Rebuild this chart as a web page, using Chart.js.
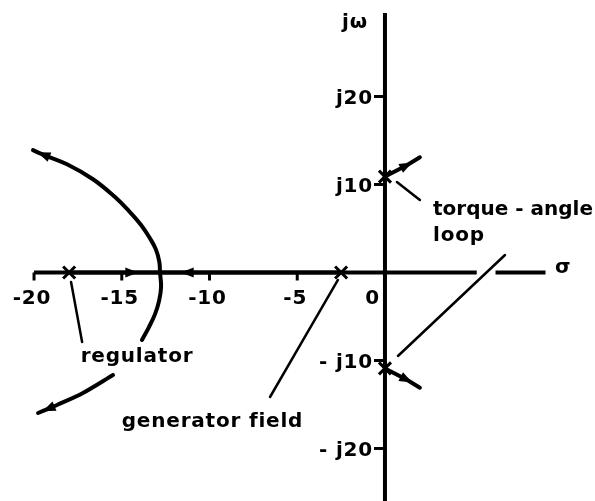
<!DOCTYPE html>
<html>
<head>
<meta charset="utf-8">
<script src="https://cdn.jsdelivr.net/npm/chart.js@4.4.1/dist/chart.umd.min.js"></script>
<style>
  html, body { margin: 0; padding: 0; background: #fff; }
  #wrap { width: 595px; height: 501px; }
</style>
</head>
<body>
<div id="wrap"><canvas id="locus"></canvas></div>
<script>
// s-plane tick values and their labels
const sigmaTicks = [-20, -15, -10, -5, 0];
const sigmaTickLabels = ['-20', '-15', '-10', '-5', '0'];
const omegaTicks = [20, 10, -10, -20];
const omegaTickLabels = ['j20', 'j10', '- j10', '- j20'];

// open-loop poles
const poleSigma = [-18, -2.5, 0, 0];
const poleOmega = [0, 0, 10.9, -10.9];

// regulator branches leaving the real axis
const upperArcSigma = [-12.82, -12.86, -13.05, -13.4, -13.9, -14.6, -15.4, -16.64, -18.12, -19.49, -20.06];
const upperArcOmega = [0, 1.2, 2.6, 3.9, 5.4, 7.0, 8.6, 10.6, 12.3, 13.4, 13.9];
const lowerArcSigma = [-12.82, -12.76, -12.87, -13.1, -13.45, -13.85];
const lowerArcOmega = [0, -1.65, -3.2, -4.7, -6.2, -7.67];
const lowerTailSigma = [-15.5, -17.21, -18.69, -19.2, -19.77];
const lowerTailOmega = [-11.65, -13.69, -15.06, -15.5, -15.97];

// real-axis segments running into the breakaway point
const regAxisSigma = [-18, -14.4, -12.82];
const fieldAxisSigma = [-2.5, -11.3, -12.82];

// torque-angle loop branches
const torqueUpSigma = [0, 1.25, 1.99];
const torqueUpOmega = [10.9, 12.2, 13.1];
const torqueDownSigma = [0, 1.25, 1.99];
const torqueDownOmega = [-10.9, -12.2, -13.1];

const pts = (xs, ys) => xs.map((x, i) => ({ x: x, y: ys[i] }));
const flat = xs => xs.map(x => ({ x: x, y: 0 }));

function stroke(data, width, extra) {
  return Object.assign({
    data: data,
    showLine: true,
    borderColor: '#000',
    borderWidth: width,
    borderCapStyle: 'round',
    pointRadius: 0,
    tension: 0.3,
    fill: false
  }, extra || {});
}

// text placed on the plane
const notes = [
  { text: 'jω', x: -0.97, y: 28.35, align: 'right' },
  { text: 'σ', x: 9.69, y: 0.55, align: 'left' },
  { text: 'torque - angle', x: 2.74, y: 7.1, align: 'left', spacing: '0px' },
  { text: 'loop', x: 2.74, y: 4.15, align: 'left' },
  { text: 'regulator', x: -14.13, y: -9.6, align: 'center' },
  { text: 'generator field', x: -9.83, y: -17.0, align: 'center' }
];

const LABEL_FONT = 'bold 20px "DejaVu Sans"';
const LABEL_SPACING = '0.8px';

const arrowHeads = {
  id: 'arrowHeads',
  afterDatasetsDraw(chart) {
    const ctx = chart.ctx;
    chart.data.datasets.forEach((ds, i) => {
      if (ds.arrowAt == null) return;
      const p = chart.getDatasetMeta(i).data;
      const a = p[ds.arrowAt - 1], b = p[ds.arrowAt];
      const ang = Math.atan2(b.y - a.y, b.x - a.x);
      ctx.save();
      ctx.translate(b.x, b.y);
      ctx.rotate(ang);
      ctx.beginPath();
      ctx.moveTo(6, 0);
      ctx.lineTo(-7, -5);
      ctx.lineTo(-7, 5);
      ctx.closePath();
      ctx.fillStyle = '#000';
      ctx.fill();
      ctx.restore();
    });
  }
};

const planeText = {
  id: 'planeText',
  afterDatasetsDraw(chart) {
    const { ctx, scales: { x, y } } = chart;
    const x0 = x.getPixelForValue(0), y0 = y.getPixelForValue(0);
    ctx.save();
    ctx.strokeStyle = '#000';
    ctx.fillStyle = '#000';
    ctx.lineWidth = 3;
    ctx.font = LABEL_FONT;
    ctx.letterSpacing = LABEL_SPACING;
    ctx.textBaseline = 'middle';

    sigmaTicks.forEach((v, i) => {
      const px = x.getPixelForValue(v);
      if (v !== 0) {
        ctx.beginPath();
        ctx.moveTo(px, y0);
        ctx.lineTo(px, y0 + 8);
        ctx.stroke();
      }
      ctx.textAlign = v === 0 ? 'right' : 'center';
      ctx.fillText(sigmaTickLabels[i], v === 0 ? px - 5 : px - 2, y0 + 26);
    });

    omegaTicks.forEach((v, i) => {
      const py = y.getPixelForValue(v);
      ctx.beginPath();
      ctx.moveTo(x0 - 11, py);
      ctx.lineTo(x0, py);
      ctx.stroke();
      ctx.textAlign = 'right';
      ctx.fillText(omegaTickLabels[i], x0 - 12, py + 2);
    });

    notes.forEach(n => {
      ctx.letterSpacing = n.spacing || LABEL_SPACING;
      ctx.textAlign = n.align;
      ctx.fillText(n.text, x.getPixelForValue(n.x), y.getPixelForValue(n.y));
    });
    ctx.restore();
  }
};

new Chart(document.getElementById('locus'), {
  type: 'scatter',
  data: {
    datasets: [
      // axes
      stroke([{ x: 0, y: 29.5 }, { x: 0, y: -26 }], 4, { borderCapStyle: 'butt' }),
      stroke(flat([-20, 5.23]), 4, { borderCapStyle: 'butt' }),
      stroke(flat([6.3, 9.15]), 4, { borderCapStyle: 'butt' }),
      // root locus
      stroke(flat(regAxisSigma), 4, { arrowAt: 1 }),
      stroke(flat(fieldAxisSigma), 4, { arrowAt: 1 }),
      stroke(pts(upperArcSigma, upperArcOmega), 4, { arrowAt: 9, tension: 0.4 }),
      stroke(pts(lowerArcSigma, lowerArcOmega), 4, { tension: 0.4 }),
      stroke(pts(lowerTailSigma, lowerTailOmega), 4, { arrowAt: 3 }),
      stroke(pts(torqueUpSigma, torqueUpOmega), 4, { arrowAt: 1, tension: 0 }),
      stroke(pts(torqueDownSigma, torqueDownOmega), 4, { arrowAt: 1, tension: 0 }),
      // leader lines to the labels
      stroke([{ x: -17.89, y: -1.08 }, { x: -17.26, y: -7.9 }], 2.5),
      stroke([{ x: -2.68, y: -0.85 }, { x: -6.55, y: -14.15 }], 2.5),
      stroke([{ x: 0.68, y: 10.28 }, { x: 1.99, y: 8.24 }], 2.5),
      stroke([{ x: 0.74, y: -9.49 }, { x: 6.84, y: 1.99 }], 2.5),
      // poles
      {
        data: pts(poleSigma, poleOmega),
        pointStyle: 'crossRot',
        pointRadius: 8.5,
        borderColor: '#000',
        borderWidth: 3,
        showLine: false
      }
    ]
  },
  options: {
    responsive: true,
    maintainAspectRatio: false,
    animation: false,
    devicePixelRatio: 1,
    layout: { padding: 0, autoPadding: false },
    plugins: { legend: { display: false }, tooltip: { enabled: false } },
    scales: {
      x: { type: 'linear', min: -21.94, max: 11.97, display: false },
      y: { type: 'linear', min: -25.97, max: 30.97, display: false }
    }
  },
  plugins: [arrowHeads, planeText]
});
</script>
</body>
</html>
